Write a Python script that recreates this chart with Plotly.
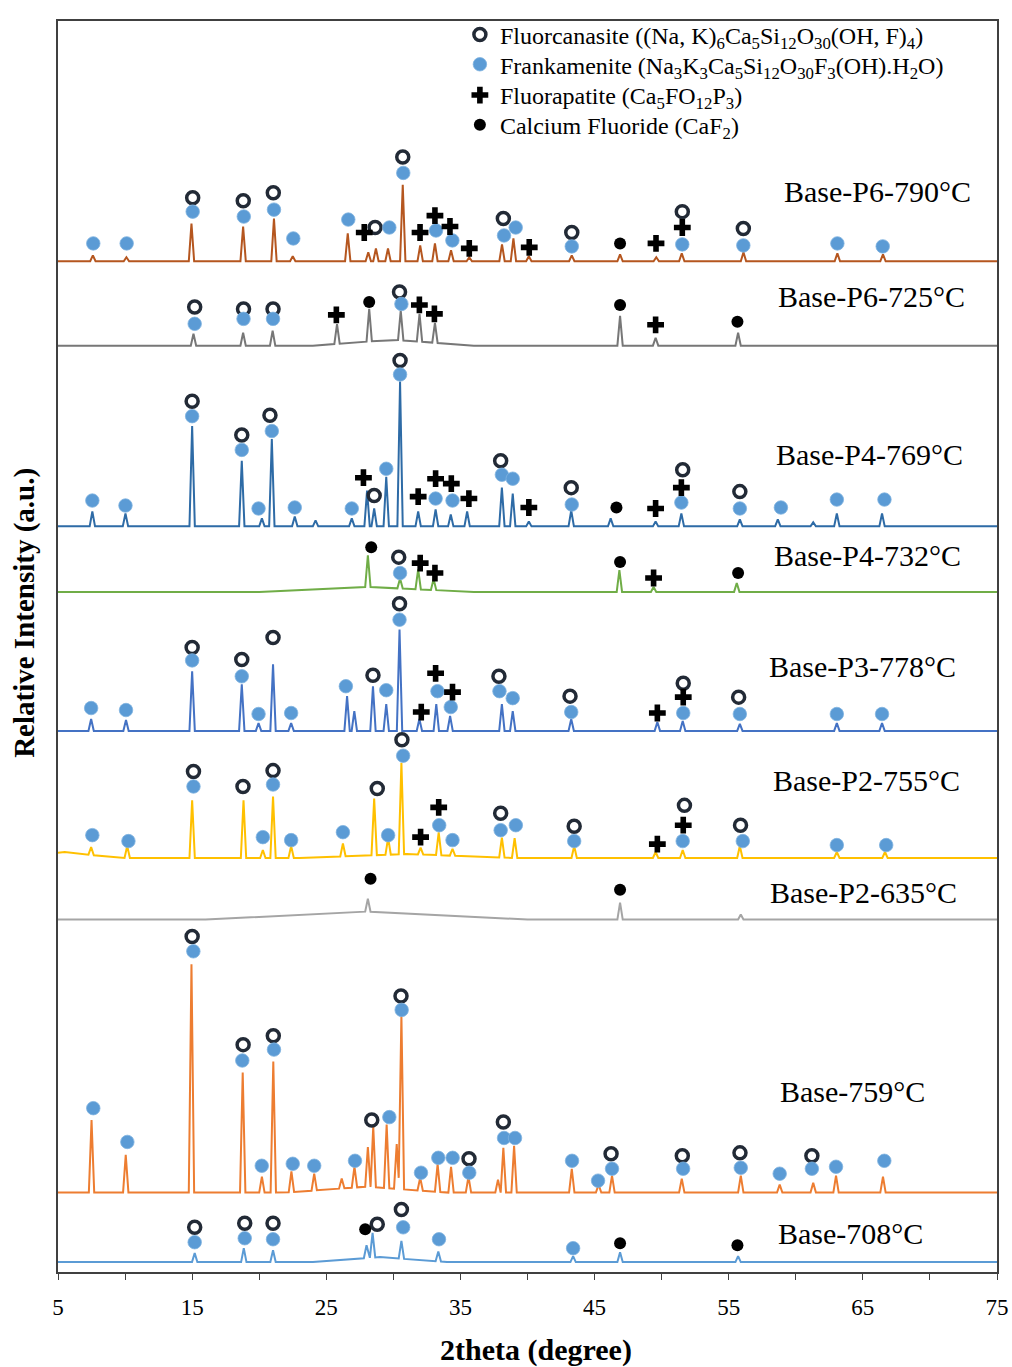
import plotly.graph_objects as go

# ---------------- data ----------------
tick_labels = [5, 15, 25, 35, 45, 55, 65, 75]

sample_names = ["Base-P6-790°C", "Base-P6-725°C", "Base-P4-769°C", "Base-P4-732°C",
                "Base-P3-778°C", "Base-P2-755°C", "Base-P2-635°C", "Base-759°C", "Base-708°C"]
# vertical stacking offset of each pattern (a.u.)
stack_offsets = [1018, 933, 751, 685, 545, 417, 355, 80, 10]

# peaks: (2theta, height above the pattern's own baseline)
p6_790_peaks = [(7.6, 6), (10.1, 4), (14.95, 38), (18.8, 35), (21.1, 43), (22.5, 5), (26.6, 28),
                (28.13, 9), (28.7, 13), (29.6, 13), (30.7, 77), (32.0, 16), (33.1, 18), (34.3, 11),
                (35.66, 4), (38.1, 17), (38.95, 23), (40.1, 5), (43.3, 6), (46.9, 7), (49.6, 4),
                (51.5, 8), (56.1, 9), (63.1, 8), (66.5, 7)]
p6_725_peaks = [(15.1, 12), (18.8, 13), (21.0, 15), (25.8, 20), (28.2, 33), (30.55, 30), (31.95, 28),
                (33.1, 20), (46.9, 30), (49.55, 8), (55.7, 13)]
p4_769_peaks = [(7.56, 15), (10.03, 13), (15.0, 101), (18.7, 66), (20.2, 8), (20.94, 88), (22.65, 10),
                (24.2, 6), (26.9, 8), (28.04, 36), (28.57, 18), (29.47, 50), (30.5, 146), (31.85, 15),
                (33.15, 17), (34.28, 12), (35.5, 15), (38.09, 39), (38.9, 33), (40.1, 5), (43.26, 16),
                (46.2, 8), (49.55, 5), (51.47, 13), (55.83, 7), (58.66, 7), (61.3, 4), (63.06, 13),
                (66.43, 13)]
p4_732_peaks = [(28.1, 32), (30.5, 10), (31.85, 20), (33.0, 11), (46.85, 22), (49.4, 5), (55.6, 9)]
p3_778_peaks = [(7.47, 12), (10.07, 11), (15.0, 60), (18.7, 47), (19.95, 8), (21.03, 67), (22.38, 8),
                (26.55, 35), (27.09, 20), (28.48, 45), (29.47, 27), (30.46, 102), (31.94, 12),
                (33.2, 27), (34.23, 15), (38.09, 27), (38.9, 20), (43.26, 12), (49.68, 9), (51.57, 10),
                (55.83, 7), (63.06, 8), (66.43, 8)]
p2_755_peaks = [(7.47, 8), (10.16, 12), (15.0, 58), (18.83, 58), (20.27, 8), (21.03, 62), (22.38, 12),
                (26.24, 13), (28.57, 57), (29.61, 17), (30.6, 92), (32.03, 7), (33.38, 23), (34.41, 7),
                (38.09, 20), (39.04, 20), (43.48, 12), (49.55, 6), (51.57, 8), (55.83, 12), (63.06, 6),
                (66.65, 6)]
p2_635_peaks = [(28.1, 13), (46.9, 17), (55.9, 5)]
b759_peaks = [(7.5, 73), (10.05, 38), (14.95, 230), (18.77, 121), (20.2, 16), (21.05, 132), (22.4, 21),
              (24.1, 17), (26.15, 10), (27.1, 21), (28.1, 40), (28.5, 61), (29.5, 64), (30.25, 45),
              (30.6, 175), (32.0, 13), (33.3, 28), (34.3, 26), (35.6, 16), (37.8, 13), (38.2, 45),
              (39.0, 47), (43.3, 24), (45.3, 8), (46.3, 17), (51.5, 14), (55.9, 17), (58.8, 8),
              (61.3, 10), (63.0, 17), (66.5, 16)]
b708_peaks = [(15.19, 9), (18.85, 14), (21.03, 12), (28.0, 13), (28.45, 25), (30.6, 18), (33.35, 10),
              (43.4, 6), (46.9, 10), (55.7, 6)]

# broad amorphous humps: (2theta centre, height, half width)
p6_725_humps = [(30.0, 6, 6.0)]
p4_732_humps = [(28.0, 5, 8.0)]
p2_755_humps = [(5.5, 6, 4.0), (31.0, 4, 8.0)]
p2_635_humps = [(28.0, 8, 12.0)]
b759_humps = [(28.0, 6, 6.0)]
b708_humps = [(29.0, 5, 5.0)]

# phase markers: (2theta, stacked intensity)
fluorcanasite_pts = [
    (15.04, 1082), (18.81, 1079), (21.05, 1087), (28.64, 1052), (30.70, 1123), (38.20, 1061),
    (43.30, 1047), (51.54, 1068), (56.09, 1051),
    (15.19, 972), (18.83, 970), (21.03, 970), (30.46, 987),
    (15.0, 877), (18.7, 843), (20.8, 863), (28.57, 782), (30.5, 918), (38.0, 817), (43.26, 790),
    (51.57, 808), (55.83, 786),
    (30.4, 720),
    (15.0, 629), (18.7, 617), (21.03, 639), (28.48, 601), (30.46, 673), (37.87, 600), (43.17, 580),
    (51.61, 593), (55.74, 579),
    (15.1, 504), (18.79, 489), (21.03, 505), (28.8, 487), (30.64, 536), (38.0, 462), (43.48, 449),
    (51.7, 470), (55.88, 450),
    (15.0, 338), (18.8, 229), (21.05, 238), (28.39, 153), (30.57, 278), (35.64, 114), (38.2, 151),
    (46.23, 119), (51.54, 117), (55.84, 120), (61.2, 117),
    (15.19, 45), (18.92, 49), (21.03, 49), (28.8, 48), (30.6, 63)]
frankamenite_pts = [
    (7.63, 1036), (10.12, 1036), (15.04, 1068), (18.85, 1063), (21.10, 1070), (22.54, 1041),
    (26.64, 1060), (29.70, 1052), (30.74, 1107), (33.18, 1049), (34.40, 1039), (38.25, 1044),
    (39.12, 1052), (43.30, 1033), (51.54, 1035), (56.09, 1034), (63.10, 1036), (66.48, 1033),
    (15.19, 955), (18.83, 960), (21.03, 960), (30.6, 975),
    (7.56, 777), (10.03, 772), (15.0, 862), (18.7, 828), (19.95, 769), (20.94, 847), (22.65, 770),
    (26.9, 769), (29.47, 809), (30.5, 904), (33.15, 779), (34.41, 777), (38.09, 803), (38.9, 799),
    (43.3, 773), (51.47, 775), (55.83, 769), (58.89, 770), (63.06, 778), (66.61, 778),
    (30.5, 704),
    (7.47, 568), (10.07, 566), (15.0, 616), (18.7, 600), (19.95, 562), (22.38, 563), (26.46, 590),
    (29.47, 586), (30.46, 657), (33.29, 585), (34.28, 569), (37.91, 585), (38.9, 578), (43.26, 564),
    (51.61, 563), (55.83, 562), (63.06, 562), (66.43, 562),
    (7.56, 440), (10.25, 434), (15.1, 489), (20.27, 438), (21.03, 491), (22.38, 435), (26.24, 443),
    (29.61, 440), (30.73, 520), (33.42, 450), (34.41, 435), (38.0, 445), (39.13, 450), (43.48, 434),
    (51.57, 434), (56.05, 434), (63.06, 430), (66.74, 430),
    (15.09, 323), (7.63, 165), (10.17, 131), (18.74, 213), (21.1, 224), (20.19, 107), (22.5, 109),
    (24.1, 107), (27.14, 112), (29.7, 156), (30.62, 264), (32.06, 100), (33.35, 115), (34.42, 115),
    (35.66, 100), (38.25, 135), (39.07, 135), (43.32, 112), (45.26, 92), (46.3, 104), (51.6, 104),
    (55.9, 105), (58.8, 99), (61.2, 104), (63.0, 106), (66.6, 112),
    (15.19, 30), (18.92, 34), (21.03, 33), (30.73, 45), (33.4, 33), (43.4, 24)]
fluorapatite_pts = [
    (27.83, 1047), (31.99, 1047), (33.10, 1064), (34.22, 1053), (35.66, 1031), (40.13, 1032),
    (49.58, 1036), (51.54, 1052),
    (25.75, 964), (31.94, 974), (33.06, 965), (49.55, 954),
    (27.77, 800), (31.85, 781), (33.15, 799), (34.32, 794), (35.63, 779), (40.1, 770), (49.55, 769),
    (51.47, 790),
    (32.0, 714), (33.1, 704), (49.4, 699),
    (33.15, 603), (34.41, 584), (32.08, 564), (49.68, 563), (51.61, 579),
    (33.38, 468), (32.03, 438), (49.68, 431), (51.61, 450)]
caf2_pts = [
    (46.9, 1036),
    (28.2, 977), (46.9, 974), (55.65, 957),
    (46.63, 770),
    (28.35, 730), (46.9, 715), (55.7, 704),
    (28.3, 396), (46.9, 385),
    (27.9, 43), (46.9, 29), (55.65, 27)]

legend_names = [
    "Fluorcanasite ((Na, K)<sub>6</sub>Ca<sub>5</sub>Si<sub>12</sub>O<sub>30</sub>(OH, F)<sub>4</sub>)",
    "Frankamenite (Na<sub>3</sub>K<sub>3</sub>Ca<sub>5</sub>Si<sub>12</sub>O<sub>30</sub>F<sub>3</sub>(OH).H<sub>2</sub>O)",
    "Fluorapatite (Ca<sub>5</sub>FO<sub>12</sub>P<sub>3</sub>)",
    "Calcium Fluoride (CaF<sub>2</sub>)"]
x_title = "2theta (degree)"
y_title = "Relative Intensity (a.u.)"

# ---------------- styles ----------------
line_colors = ["#B5561F", "#777777", "#2E6BA6", "#70AD47", "#4472C4", "#FFC000", "#A5A5A5",
               "#ED7D31", "#5B9BD5"]
label_right = [73.2, 72.8, 72.6, 72.5, 72.1, 72.4, 72.2, 69.8, 69.6]
label_y = [1085, 980, 820, 719, 607, 492, 379, 179, 36]
legend_rows_y = [0.9889, 0.9651, 0.9405, 0.9167]
SERIF = "Liberation Serif, Times New Roman, serif"
PEAK_HALF_WIDTH = 0.2

patterns = [
    (p6_790_peaks, []), (p6_725_peaks, p6_725_humps), (p4_769_peaks, []),
    (p4_732_peaks, p4_732_humps), (p3_778_peaks, []), (p2_755_peaks, p2_755_humps),
    (p2_635_peaks, p2_635_humps), (b759_peaks, b759_humps), (b708_peaks, b708_humps)]

two_lo, two_hi = tick_labels[0], tick_labels[-1]


def profile(peaks, humps, base):
    comps = [(c, h, PEAK_HALF_WIDTH) for c, h in peaks] + list(humps)
    xs = {float(two_lo), float(two_hi)}
    for c, h, w in comps:
        xs.update([c - w, c, c + w])
    xs = sorted(x for x in xs if two_lo <= x <= two_hi)
    ys = [base + sum(h * max(0.0, 1 - abs(x - c) / w) for c, h, w in comps) for x in xs]
    return xs, ys


fig = go.Figure()
for (peaks, humps), base, color in zip(patterns, stack_offsets, line_colors):
    xs, ys = profile(peaks, humps, base)
    fig.add_trace(go.Scatter(x=xs, y=ys, mode="lines", line=dict(color=color, width=2),
                             showlegend=False, hoverinfo="skip"))

marker_specs = [
    (fluorcanasite_pts, dict(symbol="circle-open", size=12, color="#222A36",
                             line=dict(width=3.5, color="#222A36"))),
    (frankamenite_pts, dict(symbol="circle", size=13.5, color="#5B9BD5",
                            line=dict(width=0.8, color="#7FB2E0"))),
    (fluorapatite_pts, dict(symbol="cross", size=14, color="#000000",
                            line=dict(width=0))),
    (caf2_pts, dict(symbol="circle", size=12, color="#000000", line=dict(width=0))),
]
legend_ids = ["legend", "legend2", "legend3", "legend4"]
for (pts, mk), name, lid in zip(marker_specs, legend_names, legend_ids):
    fig.add_trace(go.Scatter(x=[p[0] for p in pts], y=[p[1] for p in pts], mode="markers",
                             marker=mk, name=name, hoverinfo="skip", legend=lid))

for name, xr, yl in zip(sample_names, label_right, label_y):
    fig.add_annotation(x=xr, y=yl + 3, text=name, showarrow=False, xanchor="right",
                       yanchor="middle", font=dict(family=SERIF, size=30, color="#000000"))

# axis titles
fig.add_annotation(xref="paper", yref="paper", x=0.509, y=-0.062, text="<b>" + x_title + "</b>",
                   showarrow=False, xanchor="center", yanchor="middle",
                   font=dict(family=SERIF, size=30, color="#000000"))
fig.add_annotation(xref="paper", yref="paper", x=-0.035, y=0.527, text="<b>" + y_title + "</b>",
                   showarrow=False, xanchor="center", yanchor="middle", textangle=-90,
                   font=dict(family=SERIF, size=29, color="#000000"))

legend_style = dict(x=0.428, xanchor="left", yanchor="middle", bgcolor="rgba(0,0,0,0)",
                    font=dict(family=SERIF, size=24, color="#000000"), itemwidth=30,
                    borderwidth=0)
fig.update_layout(
    width=1012, height=1367,
    margin=dict(l=58, r=15, t=12, b=95),
    paper_bgcolor="white", plot_bgcolor="white",
    font=dict(family=SERIF, color="#000000"),
    showlegend=True,
    **{lid: dict(legend_style, y=ly) for lid, ly in zip(legend_ids, legend_rows_y)},
)
fig.update_xaxes(range=[two_lo, two_hi], tickmode="array", tickvals=tick_labels,
                 ticktext=[str(t) for t in tick_labels], ticks="outside", ticklen=6,
                 tickcolor="#404040", tickwidth=1.2, automargin=False,
                 ticklabeloverflow="allow",
                 minor=dict(tickvals=list(range(two_lo, two_hi + 1, 5)), ticks="outside",
                            ticklen=6, tickcolor="#404040", tickwidth=1.2),
                 showline=True, mirror=True, linecolor="#404040", linewidth=1.6,
                 showgrid=False, zeroline=False, ticklabelstandoff=8,
                 tickfont=dict(family=SERIF, size=23, color="#000000"))
fig.update_yaxes(range=[0, 1260], showticklabels=False, ticks="", showline=True, mirror=True,
                 linecolor="#404040", linewidth=1.6, showgrid=False, zeroline=False,
                 automargin=False)

fig.write_html("out.html", config={"displayModeBar": False},
               post_script="document.body.style.margin='0px';document.body.style.overflow='hidden';")
